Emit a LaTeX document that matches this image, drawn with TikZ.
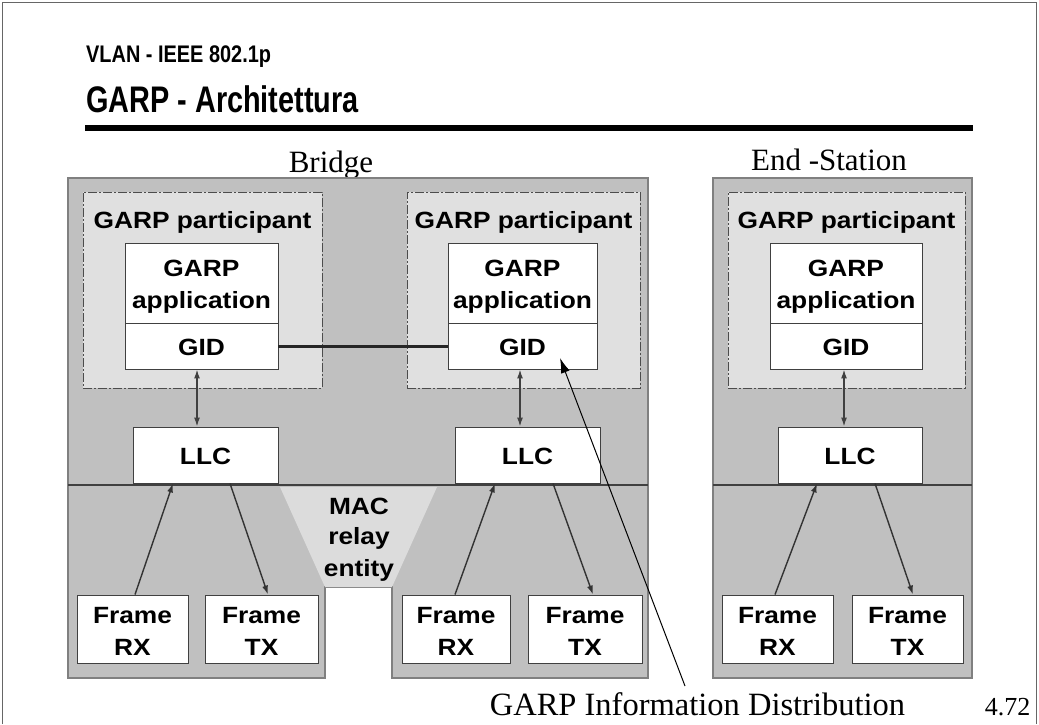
\documentclass[tikz,border=0pt]{standalone}
\usepackage{fontspec}
\usepackage{graphicx}
\setmainfont{Liberation Serif}
\newfontfamily\arialf{Liberation Sans}
\usetikzlibrary{arrows.meta,fit}
\definecolor{bggray}{HTML}{C0C0C0}
\definecolor{partgray}{HTML}{E0E0E0}
\definecolor{relaygray}{HTML}{DCDCDC}
\newcommand{\stx}[1]{\scalebox{1.12}[1]{#1}}
\begin{document}
\begin{tikzpicture}[x=1pt,y=-1pt,
  wbox/.style={draw=black!75, fill=white, line width=0.9pt, inner sep=0pt},
  partbox/.style={draw=black!70, fill=partgray, line width=0.9pt, dash pattern=on 9pt off 2pt on 2pt off 2pt, inner sep=0pt},
  dtext/.style={font=\arialf\bfseries\fontsize{23.5}{32}\selectfont, inner sep=0pt, anchor=base},
  serif/.style={font=\fontsize{31}{36}\selectfont, inner sep=0pt, anchor=base},
  varrow/.style={draw=black!75, line width=1.4pt, {Latex[length=9pt,width=6pt]}-{Latex[length=9pt,width=6pt]}},
  farrow/.style={draw=black!80, line width=1.4pt, -{Latex[length=9pt,width=6pt]}},
  graybox/.style={fill=bggray, draw=black!50, line width=1.2pt},
  sepline/.style={draw=black!75, line width=1.2pt},
  ttl/.style={inner sep=0pt, anchor=base west},
]
\useasboundingbox (0,0) rectangle (1039,724);
% page border
\draw[black!60, line width=1pt] (2.5,724) -- (2.5,2.5) -- (1036.5,2.5) -- (1036.5,724);

% title
\node[ttl] (t1) at (86,62) {\arialf\bfseries\fontsize{24}{28}\selectfont\scalebox{0.83}[1]{VLAN - IEEE 802.1p}};
\node[ttl] (t2) at (86,112) {\arialf\bfseries\fontsize{37}{42}\selectfont\scalebox{0.78}[1]{GARP - Architettura}};
\draw[line width=6pt] (85,128) -- (973,128);

% headings
\node[serif] (hbridge) at (331,172) {Bridge};
\node[serif] (hend) at (829,170) {End -Station};

% bridge body
\path[graybox] (68,178) -- (648,178) -- (648,678) -- (392,678) -- (392,587) -- (325,587) -- (325,678) -- (68,678) -- cycle;
\fill[relaygray] (280,487) -- (437,487) -- (392,587) -- (325,587) -- cycle;
\draw[sepline] (68,485) -- (648,485);
% end station body
\path[graybox] (713,178) rectangle (972,678);
\draw[sepline] (713,485) -- (972,485);

% participants
\node[partbox, fit={(83,192) (322,388)}] (lpart) {};
\node[partbox, fit={(407,192) (640,388)}] (rpart) {};
\node[partbox, fit={(728,192) (965,388)}] (epart) {};
\node[dtext] (lpartt) at (202.5,228) {\stx{GARP participant}};
\node[dtext] (rpartt) at (523.5,228) {\stx{GARP participant}};
\node[dtext] (epartt) at (846.5,228) {\stx{GARP participant}};

% applications and GID
\node[wbox, fit={(125,243) (278,323)}] (lapp) {};
\node[wbox, fit={(125,323) (278,369)}] (lgid) {};
\node[wbox, fit={(448,243) (597,323)}] (rapp) {};
\node[wbox, fit={(448,323) (597,369)}] (rgid) {};
\node[wbox, fit={(770,243) (922,323)}] (eapp) {};
\node[wbox, fit={(770,323) (922,369)}] (egid) {};
\foreach \n/\x in {l/201.5, r/522.5, e/846}{
  \node[dtext] (\n garp) at (\x,276) {\stx{GARP}};
  \node[dtext] (\n appl) at (\x,308) {\stx{application}};
  \node[dtext] (\n gidt) at (\x,355) {\stx{GID}};
}

% LLC
\node[wbox, fit={(133,427) (278,483)}] (lllc) {};
\node[wbox, fit={(455,427) (600,483)}] (rllc) {};
\node[wbox, fit={(778,427) (922,483)}] (ellc) {};
\node[dtext] (lllct) at (205.5,464) {\stx{LLC}};
\node[dtext] (rllct) at (527.5,464) {\stx{LLC}};
\node[dtext] (ellct) at (850,464) {\stx{LLC}};

% MAC relay entity
\node[dtext] (mac1) at (359,514) {\stx{MAC}};
\node[dtext] (mac2) at (359,544) {\stx{relay}};
\node[dtext] (mac3) at (359,576) {\stx{entity}};

% frames
\node[wbox, fit={(77,595) (188,663)}] (lrx) {};
\node[wbox, fit={(205,595) (318,663)}] (ltx) {};
\node[wbox, fit={(402,595) (510,663)}] (rrx) {};
\node[wbox, fit={(528,595) (642,663)}] (rtx) {};
\node[wbox, fit={(722,595) (833,663)}] (erx) {};
\node[wbox, fit={(852,595) (963,663)}] (etx) {};
\foreach \n/\x/\t in {lrx/132.5/RX, ltx/261.5/TX, rrx/456/RX, rtx/585/TX, erx/777.5/RX, etx/907.5/TX}{
  \node[dtext] (\n a) at (\x,623) {\stx{Frame}};
  \node[dtext] (\n b) at (\x,655) {\stx{\t}};
}

% GID - LLC arrows
\coordinate (lax) at (197,0);
\coordinate (rax) at (520,0);
\coordinate (eax) at (844,0);
\draw[varrow] (lgid.south -| lax) -- (lllc.north -| lax);
\draw[varrow] (rgid.south -| rax) -- (rllc.north -| rax);
\draw[varrow] (egid.south -| eax) -- (ellc.north -| eax);

% frame arrows
\draw[farrow] ([xshift=2.5pt]lrx.north) -- ([xshift=-32.5pt]lllc.south);
\draw[farrow] ([xshift=24.5pt]lllc.south) -- ([xshift=6.5pt]ltx.north);
\draw[farrow] ([xshift=-1pt]rrx.north) -- ([xshift=-32.5pt]rllc.south);
\draw[farrow] ([xshift=25.5pt]rllc.south) -- ([xshift=8pt]rtx.north);
\draw[farrow] ([xshift=-2.5pt]erx.north) -- ([xshift=-33pt]ellc.south);
\draw[farrow] ([xshift=25pt]ellc.south) -- ([xshift=5.5pt]etx.north);

% GID - GID connection
\draw[line width=3pt, black!85] (lgid.east) -- (rgid.west);

% caption and pointer
\node[font=\fontsize{32.5}{36}\selectfont, inner sep=0pt, anchor=base] (cap) at (697.5,715) {GARP Information Distribution};
\node[font=\fontsize{26}{30}\selectfont, inner sep=0pt, anchor=base] (pnum) at (1007.5,715) {4.72};
\coordinate (ptail) at (685,686);
\coordinate (ptip) at (560,358);
\draw[line width=1pt, -{Latex[length=15pt,width=9pt]}] (ptail) -- (ptip);
\end{tikzpicture}
\end{document}
